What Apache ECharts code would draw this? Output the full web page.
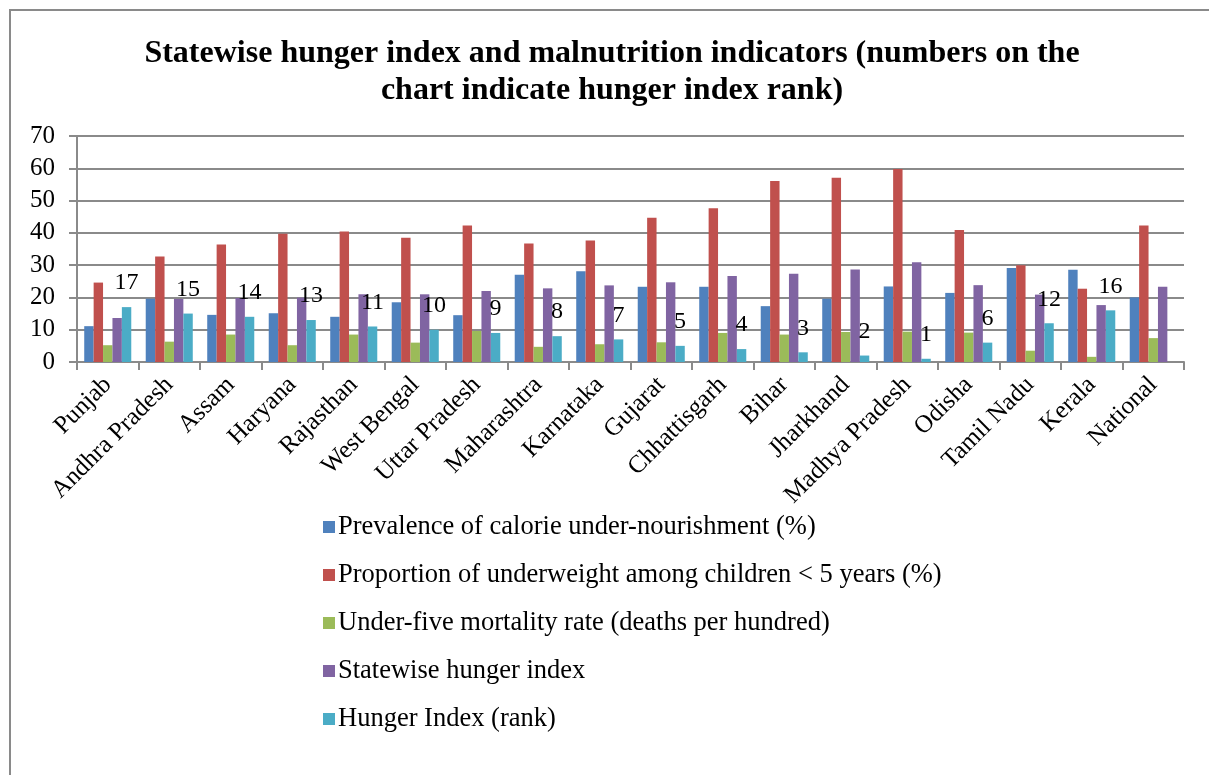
<!DOCTYPE html>
<html>
<head>
<meta charset="utf-8">
<script src="https://cdn.jsdelivr.net/npm/echarts@6/dist/echarts.min.js"></script>
<style>
html,body{margin:0;padding:0;background:#fff;}
#chart{width:1209px;height:775px;}
</style>
</head>
<body>
<div id="chart"></div>
<script>
const categories = ['Punjab','Andhra Pradesh','Assam','Haryana','Rajasthan','West Bengal','Uttar Pradesh','Maharashtra','Karnataka','Gujarat','Chhattisgarh','Bihar','Jharkhand','Madhya Pradesh','Odisha','Tamil Nadu','Kerala','National'];
const seriesNames = [
  'Prevalence of calorie under-nourishment (%)',
  'Proportion of underweight among children < 5 years (%)',
  'Under-five mortality rate (deaths per hundred)',
  'Statewise hunger index',
  'Hunger Index (rank)'
];
const undernourishment = [11.1, 19.6, 14.6, 15.1, 14.0, 18.5, 14.5, 27.0, 28.1, 23.3, 23.3, 17.3, 19.6, 23.4, 21.4, 29.1, 28.6, 20.0];
const underweight = [24.6, 32.7, 36.4, 39.7, 40.4, 38.5, 42.3, 36.7, 37.6, 44.7, 47.6, 56.1, 57.1, 59.8, 40.9, 30.0, 22.7, 42.3];
const mortality = [5.2, 6.3, 8.5, 5.2, 8.5, 6.0, 9.6, 4.7, 5.5, 6.1, 9.0, 8.5, 9.3, 9.4, 9.1, 3.5, 1.6, 7.4];
const hungerIndex = [13.63, 19.54, 19.83, 19.95, 20.98, 20.97, 21.99, 22.81, 23.73, 24.69, 26.67, 27.30, 28.67, 30.87, 23.80, 20.87, 17.63, 23.31];
const hungerRank = [17, 15, 14, 13, 11, 10, 9, 8, 7, 5, 4, 3, 2, 1, 6, 12, 16, null];
const yTicks = {min: 0, max: 70, interval: 10};

const colors = ['#4F81BD', '#C0504D', '#9BBB59', '#8064A2', '#4BACC6'];
const FONT = "'Liberation Serif', 'Times New Roman', serif";
const seriesData = [undernourishment, underweight, mortality, hungerIndex, hungerRank];

const chart = echarts.init(document.getElementById('chart'), null, {renderer: 'canvas'});
chart.setOption({
  animation: false,
  color: colors,
  graphic: [{
    type: 'rect', shape: {x: 10, y: 10, width: 1240, height: 820},
    style: {fill: 'none', stroke: '#8a8a8a', lineWidth: 2}, silent: true, z: -1
  }],
  title: {
    text: 'Statewise hunger index and malnutrition indicators (numbers on the\nchart indicate hunger index rank)',
    left: 607, top: 30, textAlign: 'center',
    textStyle: {fontFamily: FONT, fontWeight: 'bold', fontSize: 32, lineHeight: 37, color: '#000'}
  },
  legend: {
    orient: 'vertical', left: 318, top: 507,
    icon: 'rect', itemWidth: 12, itemHeight: 12, itemGap: 18,
    textStyle: {fontFamily: FONT, fontSize: 26.5, lineHeight: 30, color: '#000', padding: [0,0,0,-2]},
    data: seriesNames
  },
  grid: {left: 77, right: 25, top: 136, bottom: 413, containLabel: false},
  xAxis: {
    type: 'category', data: categories,
    axisLine: {lineStyle: {color: '#8a8a8a', width: 2}},
    axisTick: {show: true, length: 8, interval: 0, lineStyle: {color: '#8a8a8a', width: 2}},
    axisLabel: {interval: 0, rotate: 45, margin: 19, fontFamily: FONT, fontSize: 25, color: '#000'}
  },
  yAxis: {
    type: 'value', min: yTicks.min, max: yTicks.max, interval: yTicks.interval,
    axisLine: {show: true, lineStyle: {color: '#8a8a8a', width: 2}},
    axisTick: {show: true, length: 8, lineStyle: {color: '#8a8a8a', width: 2}},
    splitLine: {lineStyle: {color: '#8a8a8a', width: 2}},
    axisLabel: {margin: 22, fontFamily: FONT, fontSize: 25, color: '#000'}
  },
  series: seriesNames.map((name, i) => ({
    name, type: 'bar', data: seriesData[i],
    barGap: '0%', barCategoryGap: '23.5%',
    itemStyle: {color: colors[i]},
    label: i === 4 ? {
      show: true, position: 'top', distance: 12,
      fontFamily: FONT, fontSize: 24, color: '#000',
      formatter: p => (p.value == null ? '' : p.value)
    } : {show: false}
  }))
});
</script>
</body>
</html>
